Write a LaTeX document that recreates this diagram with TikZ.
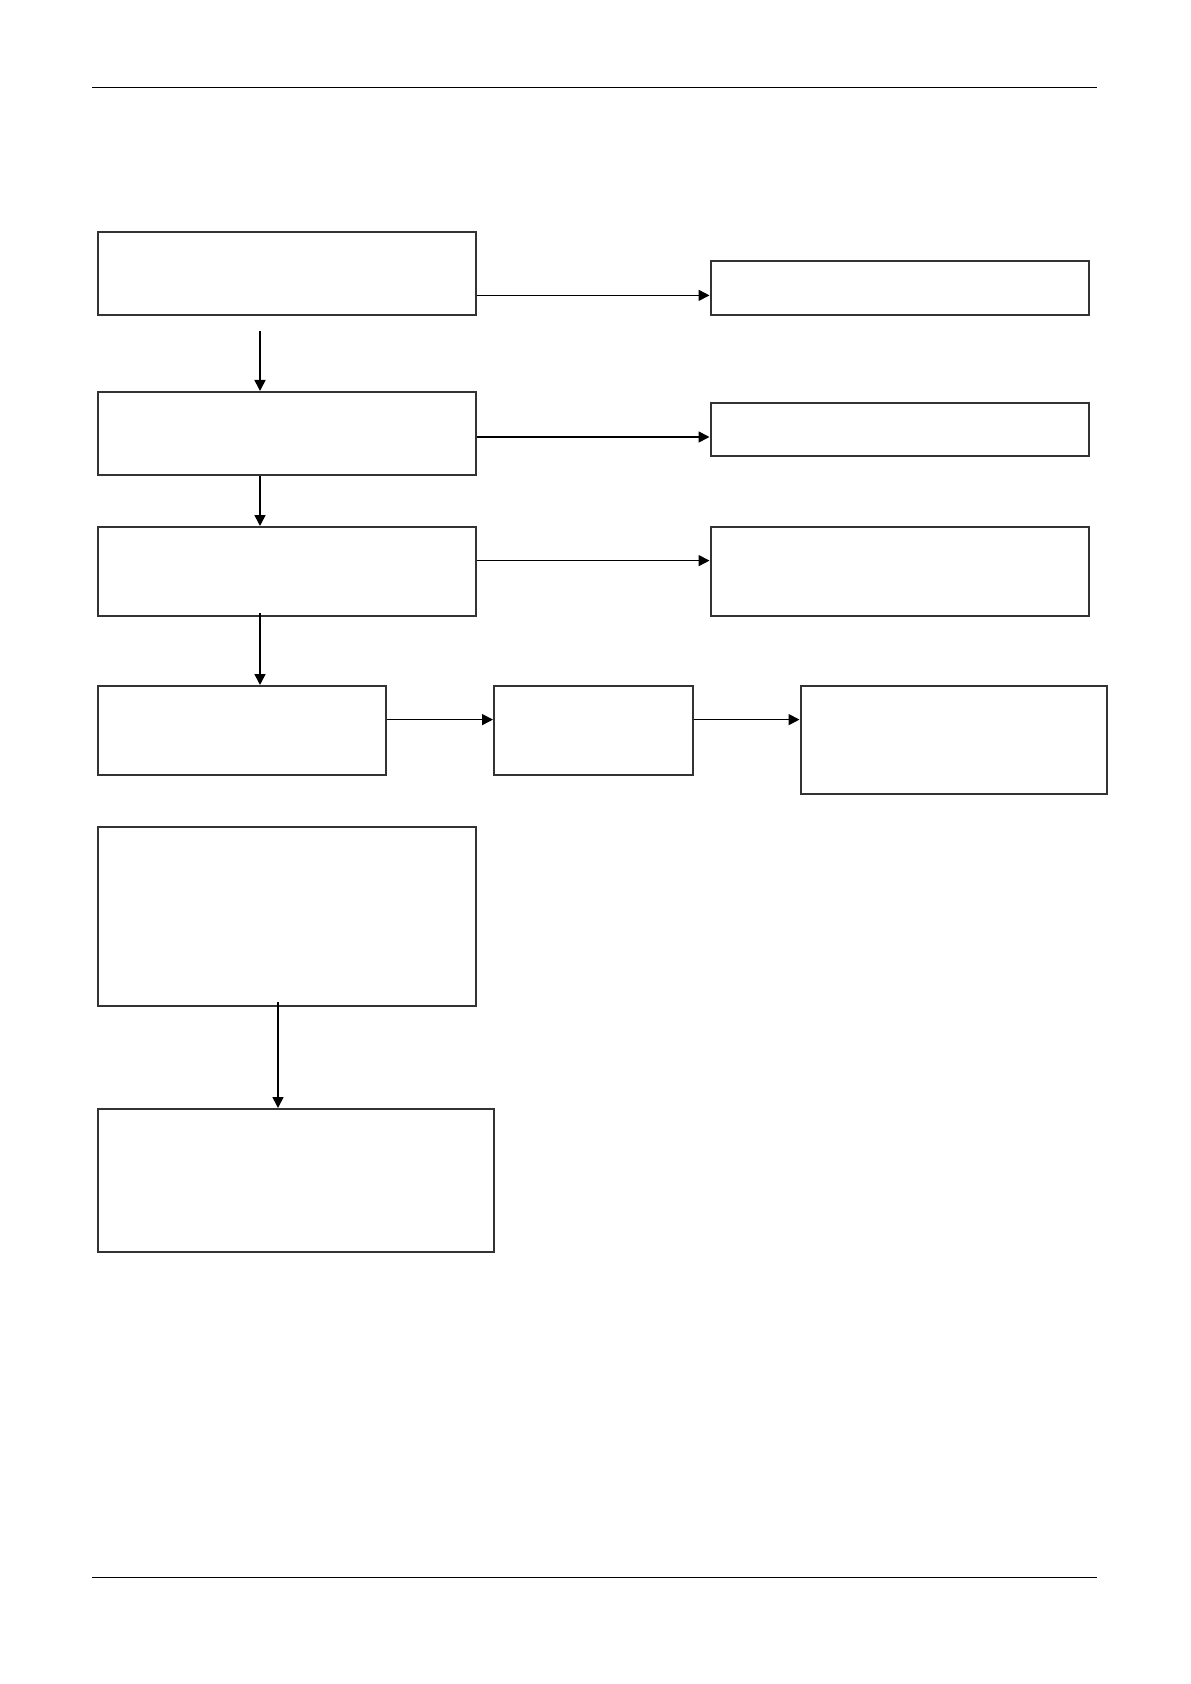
\documentclass[tikz,border=0pt]{standalone}
\usetikzlibrary{arrows.meta}
\definecolor{boxgray}{HTML}{333333}
\begin{document}
\begin{tikzpicture}[x=0.5pt,y=-0.5pt,
  box/.style={draw=boxgray,line width=1pt,rectangle,anchor=north west,inner sep=0pt},
  arr/.style={draw=black,line width=0.8pt,-{Triangle[length=5.5pt,width=5.5pt]}},
  rule/.style={draw=black,line width=0.5pt}]
\useasboundingbox (0,0) rectangle (1190,1684);
\draw[rule] (92,88) -- (1097,88);
\draw[rule] (92,1577) -- (1097,1577);
% left column
\node[box,minimum width=378pt*0.5,minimum height=82.6pt*0.5] (A) at (97,231) {};
\node[box,minimum width=378pt*0.5,minimum height=82.6pt*0.5] (B) at (97,391) {};
\node[box,minimum width=378pt*0.5,minimum height=89.4pt*0.5] (C) at (97,526) {};
\node[box,minimum width=288pt*0.5,minimum height=89.4pt*0.5] (D) at (97,685) {};
\node[box,minimum width=378pt*0.5,minimum height=179pt*0.5] (E) at (97,826) {};
\node[box,minimum width=396.3pt*0.5,minimum height=143pt*0.5] (F) at (97,1108) {};
% right column
\node[box,minimum width=378pt*0.5,minimum height=53.6pt*0.5] (R1) at (709.5,260) {};
\node[box,minimum width=378pt*0.5,minimum height=53.7pt*0.5] (R2) at (709.5,401.7) {};
\node[box,minimum width=378pt*0.5,minimum height=89.4pt*0.5] (R3) at (709.5,526) {};
\node[box,minimum width=198.7pt*0.5,minimum height=89.4pt*0.5] (M) at (493,685) {};
\node[box,minimum width=306pt*0.5,minimum height=107.6pt*0.5] (R4) at (799.5,685) {};
% guide coordinates
\coordinate (a0) at (260,331);
\coordinate (c0) at (260,613);
\coordinate (e0) at (278,1002);
\coordinate (y1) at (0,295.4);
\coordinate (y2) at (0,437);
\coordinate (y3) at (0,560.6);
\coordinate (y4) at (0,719.6);
% connectors
\draw[arr] (a0) -- (B.north -| a0);
\draw[arr] (B.south -| a0) -- (C.north -| a0);
\draw[arr] (c0) -- (D.north -| c0);
\draw[arr] (e0) -- (F.north -| e0);
\draw[arr] (A.east |- y1) -- (R1.west |- y1);
\draw[arr] (B.east |- y2) -- (R2.west |- y2);
\draw[arr] (C.east |- y3) -- (R3.west |- y3);
\draw[arr] (D.east |- y4) -- (M.west |- y4);
\draw[arr] (M.east |- y4) -- (R4.west |- y4);
\end{tikzpicture}
\end{document}
